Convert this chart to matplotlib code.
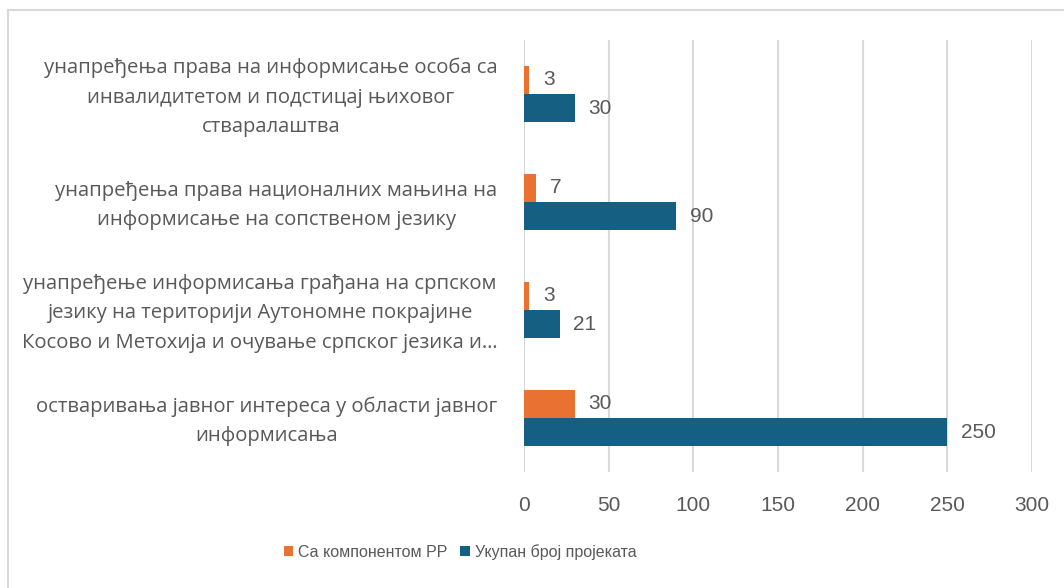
import numpy as np
import matplotlib.pyplot as plt
from matplotlib.patches import Rectangle

categories = [
    "унапређења права на информисање особа са\nинвалидитетом и подстицај њиховог\nстваралаштва",
    "унапређења права националних мањина на\nинформисање на сопственом језику",
    "унапређење информисања грађана на српском\nјезику на територији Аутономне покрајине\nКосово и Метохија и очување српског језика и…",
    "остваривања јавног интереса у области јавног\nинформисања",
]
with_pr = [3, 7, 3, 30]
total = [30, 90, 21, 250]
series_names = ["Са компонентом РР", "Укупан број пројеката"]
x_ticks = [0, 50, 100, 150, 200, 250, 300]

ORANGE = "#E97132"
BLUE = "#156082"
GRAY = "#595959"


def main():
    fig = plt.figure(figsize=(10.64, 5.88), dpi=100)
    W, H = 1064, 588
    ax = fig.add_axes([524 / W, 1 - 472 / H, (1032 - 524) / W, (472 - 40) / H])

    # chart border (only top/left visible in the crop)
    fig.patches.append(Rectangle((8 / W, -0.1), 1.2, 1 - 10 / H + 0.1,
                                 transform=fig.transFigure, fill=False,
                                 edgecolor="#D9D9D9", linewidth=1.5))

    y = np.arange(len(categories))
    h = 0.26
    b1 = ax.barh(y - h / 2, with_pr, height=h, color=ORANGE, label=series_names[0])
    b2 = ax.barh(y + h / 2, total, height=h, color=BLUE, label=series_names[1])

    for bars in (b1, b2):
        ax.bar_label(bars, padding=10, color=GRAY, fontsize=15,
                     family=["Liberation Sans", "DejaVu Sans"])

    ax.set_xlim(0, 300)
    ax.set_ylim(3.5, -0.5)
    ax.set_xticks(x_ticks)
    # labels sit a few pixels above the group centre
    ax.set_yticks(y - 0.035)
    ax.set_yticklabels(categories, fontsize=14.6, color=GRAY,
                       family=["Open Sans", "DejaVu Sans"], linespacing=1.62)
    for t in ax.get_yticklabels():
        t.set_multialignment("center")
    for t in ax.get_xticklabels():
        t.set_fontsize(15)
        t.set_color(GRAY)
        t.set_family(["Liberation Sans", "DejaVu Sans"])

    ax.tick_params(axis="x", length=0, pad=17)
    ax.tick_params(axis="y", length=0, pad=19)
    for s in ax.spines.values():
        s.set_visible(False)
    ax.xaxis.grid(True, color="#D9D9D9", linewidth=1.5)
    ax.set_axisbelow(True)

    fig.legend(handles=[b1, b2], labels=series_names, loc="center",
               bbox_to_anchor=(460 / W, 1 - 552 / H), ncol=2, frameon=False,
               handlelength=0.6, handleheight=0.6, handletextpad=0.3,
               columnspacing=0.8,
               prop={"family": ["Liberation Sans", "DejaVu Sans"], "size": 11.5},
               labelcolor=GRAY)

    fig.savefig("out.png", dpi=100)


if __name__ == "__main__":
    main()
